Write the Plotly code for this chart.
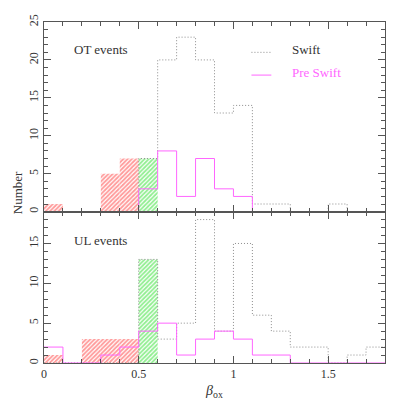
import plotly.graph_objects as go
from plotly.subplots import make_subplots

# bin edges (width 0.1) for beta_ox
bin_edges = [round(0.1 * i, 1) for i in range(19)]

# OT events (top panel)
ot_swift = [0, 0, 0, 0, 0, 7, 20, 23, 20, 13, 14, 1, 1, 0, 0, 1, 0, 0]
ot_preswift = [0, 0, 0, 0, 0, 3, 8, 2, 7, 3, 2, 0, 0, 0, 0, 0, 0, 0]
ot_red = [1, 0, 0, 5, 7, 0, 0, 0, 0, 0, 0, 0, 0, 0, 0, 0, 0, 0]
ot_green = [0, 0, 0, 0, 0, 7, 0, 0, 0, 0, 0, 0, 0, 0, 0, 0, 0, 0]

# UL events (bottom panel)
ul_swift = [0, 0, 0, 0, 0, 13, 3, 5, 18, 4, 15, 6, 4, 2, 2, 0, 1, 2]
ul_preswift = [2, 0, 0, 1, 2, 4, 5, 1, 3, 4, 3, 1, 1, 0, 0, 0, 0, 0]
ul_red = [1, 0, 3, 3, 3, 0, 0, 0, 0, 0, 0, 0, 0, 0, 0, 0, 0, 0]
ul_green = [0, 0, 0, 0, 0, 13, 0, 0, 0, 0, 0, 0, 0, 0, 0, 0, 0, 0]

SERIF = "Liberation Serif"
GRAY = "#8c8c8c"
MAGENTA = "#ff66ff"
RED = "#ff3333"
GREEN = "#22dd22"
AXIS = "#555555"
DOT = "1px,2px"

centers = [(bin_edges[i] + bin_edges[i + 1]) / 2 for i in range(len(bin_edges) - 1)]

fig = make_subplots(rows=2, cols=1, shared_xaxes=True, vertical_spacing=0,
                    row_heights=[0.556, 0.444])


def hatched(counts, color, row):
    fig.add_trace(go.Bar(
        x=centers, y=counts, width=0.1,
        marker=dict(color="white", line=dict(width=0),
                    pattern=dict(shape="/", fgcolor=color, bgcolor="white",
                                 size=3, solidity=0.6)),
        showlegend=False, hoverinfo="skip"), row=row, col=1)


def step(counts, color, dash, row):
    fig.add_trace(go.Scatter(
        x=bin_edges, y=counts + [counts[-1]], mode="lines",
        line=dict(shape="hv", color=color, width=1, dash=dash),
        showlegend=False), row=row, col=1)


for row, red, green, swift, pre in [(1, ot_red, ot_green, ot_swift, ot_preswift),
                                    (2, ul_red, ul_green, ul_swift, ul_preswift)]:
    hatched(red, RED, row)
    hatched(green, GREEN, row)
    step(swift, GRAY, DOT, row)
    step(pre, MAGENTA, "solid", row)

axis_common = dict(showline=True, linecolor=AXIS, linewidth=1, mirror="allticks",
                   ticks="inside", tickcolor=AXIS, ticklen=7, showgrid=False,
                   zeroline=False, automargin=False,
                   tickfont=dict(family=SERIF, size=12, color="#333"))

fig.update_xaxes(range=[0, 1.8], dtick=0.5, tick0=0,
                 minor=dict(dtick=0.1, ticks="inside", ticklen=4, tickcolor=AXIS),
                 **axis_common)
fig.update_xaxes(showticklabels=False, row=1, col=1)
fig.update_xaxes(tickvals=[0, 0.5, 1, 1.5], ticktext=["0", "0.5", "1", "1.5"],
                 title=dict(text="<i>β</i><sub>ox</sub>",
                            font=dict(family=SERIF, size=14, color="#333"), standoff=4),
                 row=2, col=1)

fig.update_yaxes(dtick=5, tick0=0, tickangle=-90,
                 minor=dict(dtick=1, ticks="inside", ticklen=4, tickcolor=AXIS),
                 **axis_common)
fig.update_yaxes(range=[0, 25], row=1, col=1)
fig.update_yaxes(range=[0, 19], tickvals=[0, 5, 10, 15], row=2, col=1)

# panel labels and legend
fig.add_annotation(x=0.15, y=21.4, xref="x", yref="y", text="OT events", showarrow=False,
                   xanchor="left", font=dict(family=SERIF, size=13, color="#333"))
fig.add_annotation(x=0.15, y=15.4, xref="x2", yref="y2", text="UL events", showarrow=False,
                   xanchor="left", font=dict(family=SERIF, size=13, color="#333"))
fig.add_shape(type="line", x0=1.095, x1=1.2, y0=21.0, y1=21.0, xref="x", yref="y",
              line=dict(color=GRAY, width=1, dash=DOT))
fig.add_annotation(x=1.3, y=21.4, xref="x", yref="y", text="Swift", showarrow=False,
                   xanchor="left", font=dict(family=SERIF, size=13, color="#333"))
fig.add_shape(type="line", x0=1.095, x1=1.2, y0=18.0, y1=18.0, xref="x", yref="y",
              line=dict(color=MAGENTA, width=1))
fig.add_annotation(x=1.3, y=18.4, xref="x", yref="y", text="Pre Swift", showarrow=False,
                   xanchor="left", font=dict(family=SERIF, size=13, color=MAGENTA))

fig.add_annotation(x=-0.105, y=0.5, xref="paper", yref="paper", text="Number",
                   showarrow=False, textangle=-90,
                   font=dict(family=SERIF, size=13, color="#333"))

# the page body adds an 8px offset, so margins are shifted to keep the plot area in place
fig.update_layout(width=407, height=407, margin=dict(l=36, r=30, t=14, b=52),
                  plot_bgcolor="white", paper_bgcolor="white", barmode="overlay",
                  showlegend=False)

fig.write_html("out.html")
